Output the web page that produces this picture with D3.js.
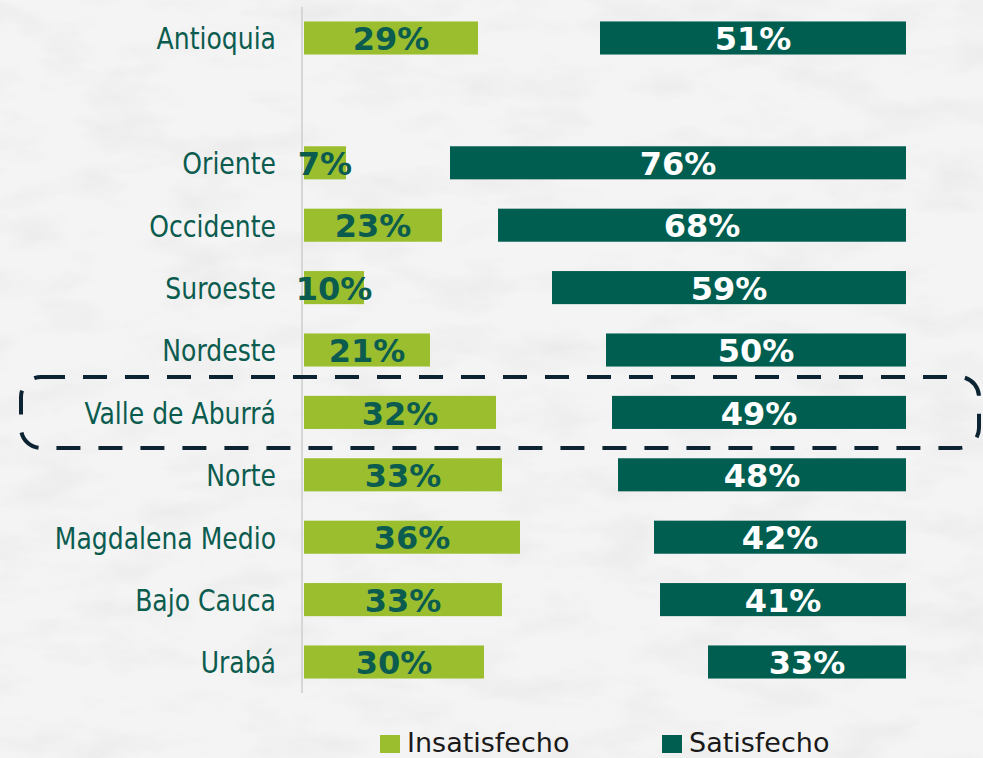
<!DOCTYPE html>
<html>
<head>
<meta charset="utf-8">
<script src="https://cdn.jsdelivr.net/npm/d3@7"></script>
<style>
  html, body { margin: 0; padding: 0; background: #f3f3f3; }
  svg { display: block; }
</style>
</head>
<body>
<div id="chart"></div>
<script>
// Satisfaction by subregion (Antioquia total on top)
const categories = ["Antioquia", "Oriente", "Occidente", "Suroeste", "Nordeste",
  "Valle de Aburrá", "Norte", "Magdalena Medio", "Bajo Cauca", "Urabá"];
const insatisfecho = [29, 7, 23, 10, 21, 32, 33, 36, 33, 30];
const satisfecho = [51, 76, 68, 59, 50, 49, 48, 42, 41, 33];
const seriesNames = ["Insatisfecho", "Satisfecho"];
const highlighted = "Valle de Aburrá";

const W = 983, H = 758;
const colInsat = "#9bbe2f", colSat = "#005e50", colText = "#0b5c4f";

const svg = d3.select("#chart").append("svg").attr("width", W).attr("height", H);

// textured light backdrop
const defs = svg.append("defs");
const f = defs.append("filter").attr("id", "grain").attr("x", 0).attr("y", 0).attr("width", 1).attr("height", 1);
f.append("feTurbulence").attr("type", "fractalNoise").attr("baseFrequency", "0.012 0.03").attr("numOctaves", 4).attr("seed", 7);
f.append("feColorMatrix").attr("type", "matrix")
  .attr("values", "0 0 0 0 0.55  0 0 0 0 0.55  0 0 0 0 0.55  0 0 0 -1.1 0.62");
svg.append("rect").attr("width", W).attr("height", H).attr("fill", "#f4f4f4");
svg.append("rect").attr("width", W).attr("height", H).attr("filter", "url(#grain)").attr("opacity", 0.35);

// one empty slot separates the total from the subregions
const slots = [categories[0], "gap", ...categories.slice(1)];
const y = d3.scaleBand().domain(slots).range([6.8, 693.2]).paddingInner(0.47).paddingOuter(0.235);
const len = d3.scaleLinear().domain([0, 100]).range([0, 600]);
const x0 = 304, xEnd = 906;

const rows = categories.map((c, i) => ({ c, ins: insatisfecho[i], sat: satisfecho[i] }));

// axis line
svg.append("line").attr("x1", 302).attr("x2", 302).attr("y1", 7).attr("y2", 693)
  .attr("stroke", "#d6d6d6").attr("stroke-width", 2);

// left bars
svg.selectAll("rect.ins").data(rows).join("rect").attr("class", "ins")
  .attr("x", x0).attr("y", d => y(d.c)).attr("width", d => len(d.ins)).attr("height", y.bandwidth())
  .attr("fill", colInsat);

// right bars, anchored at the right edge
svg.selectAll("rect.sat").data(rows).join("rect").attr("class", "sat")
  .attr("x", d => xEnd - len(d.sat)).attr("y", d => y(d.c)).attr("width", d => len(d.sat)).attr("height", y.bandwidth())
  .attr("fill", colSat);

const mid = d => y(d.c) + y.bandwidth() / 2;

// category labels (tall, narrow face)
svg.selectAll("text.cat").data(rows).join("text").attr("class", "cat")
  .attr("transform", d => `translate(276,${mid(d)}) scale(0.93,1)`)
  .attr("dy", "0.38em")
  .attr("text-anchor", "end")
  .attr("font-family", "'DejaVu Sans Condensed', 'DejaVu Sans', sans-serif").attr("font-stretch", "condensed")
  .attr("font-size", 30).attr("fill", colText)
  .text(d => d.c);

// value labels
svg.selectAll("text.insv").data(rows).join("text").attr("class", "insv")
  .attr("x", d => x0 + len(d.ins) / 2).attr("y", d => mid(d)).attr("dy", "0.38em")
  .attr("text-anchor", "middle").attr("font-family", "'DejaVu Sans', sans-serif").attr("font-weight", "bold")
  .attr("font-size", 32).attr("fill", colText)
  .text(d => d.ins + "%");
svg.selectAll("text.satv").data(rows).join("text").attr("class", "satv")
  .attr("x", d => xEnd - len(d.sat) / 2).attr("y", d => mid(d)).attr("dy", "0.38em")
  .attr("text-anchor", "middle").attr("font-family", "'DejaVu Sans', sans-serif").attr("font-weight", "bold")
  .attr("font-size", 32).attr("fill", "#ffffff")
  .text(d => d.sat + "%");

// dashed frame around the highlighted subregion
const hy = y(highlighted) + y.bandwidth() / 2;
svg.append("rect").attr("x", 21).attr("y", hy - 35.5).attr("width", 958).attr("height", 71)
  .attr("rx", 20).attr("ry", 20)
  .attr("fill", "none").attr("stroke", "#0c2332").attr("stroke-width", 4)
  .attr("stroke-dasharray", "24 18");

// legend
const legend = [{ name: seriesNames[0], color: colInsat, x: 380 }, { name: seriesNames[1], color: colSat, x: 662 }];
const lg = svg.selectAll("g.lg").data(legend).join("g").attr("class", "lg")
  .attr("transform", d => `translate(${d.x},0)`);
lg.append("rect").attr("x", 0).attr("y", 735).attr("width", 20).attr("height", 18).attr("fill", d => d.color);
lg.append("text").attr("x", 27).attr("y", 752)
  .attr("font-family", "'DejaVu Sans', sans-serif").attr("font-size", 27).attr("fill", "#1a1a1a")
  .text(d => d.name);
</script>
</body>
</html>
